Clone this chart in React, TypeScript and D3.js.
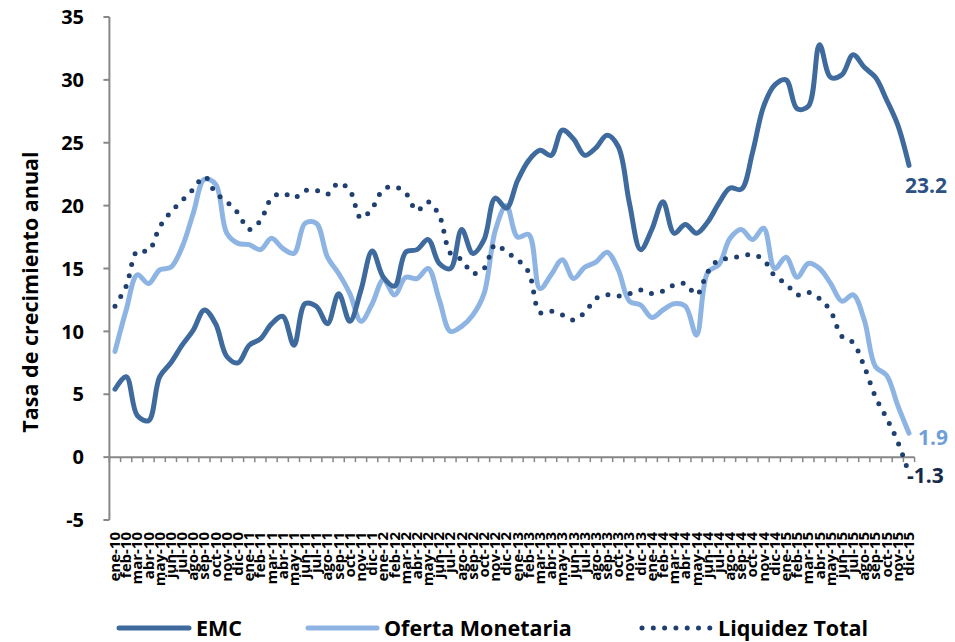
import React from "react";
import * as d3 from "d3";

const categories = [
  "ene-10","feb-10","mar-10","abr-10","may-10","jun-10","jul-10","ago-10","sep-10","oct-10","nov-10","dic-10",
  "ene-11","feb-11","mar-11","abr-11","may-11","jun-11","jul-11","ago-11","sep-11","oct-11","nov-11","dic-11",
  "ene-12","feb-12","mar-12","abr-12","may-12","jun-12","jul-12","ago-12","sep-12","oct-12","nov-12","dic-12",
  "ene-13","feb-13","mar-13","abr-13","may-13","jun-13","jul-13","ago-13","sep-13","oct-13","nov-13","dic-13",
  "ene-14","feb-14","mar-14","abr-14","may-14","jun-14","jul-14","ago-14","sep-14","oct-14","nov-14","dic-14",
  "ene-15","feb-15","mar-15","abr-15","may-15","jun-15","jul-15","ago-15","sep-15","oct-15","nov-15","dic-15",
];

const emc = [
  5.4, 6.4, 3.3, 2.9, 6.4, 7.5, 8.9, 10.1, 11.7, 10.6, 8.0, 7.5,
  8.9, 9.4, 10.6, 11.2, 8.9, 12.2, 12.0, 10.6, 13.0, 10.8, 13.3, 16.4,
  14.3, 13.6, 16.3, 16.5, 17.3, 15.4, 15.0, 18.1, 16.2, 17.3, 20.6, 19.8,
  22.0, 23.6, 24.4, 24.0, 26.0, 25.3, 24.0, 24.6, 25.6, 24.7, 20.2, 16.5,
  18.1, 20.3, 17.8, 18.5, 17.8, 18.7, 20.2, 21.4, 21.3, 24.2, 27.9, 29.6,
  30.0, 27.7, 27.9, 32.8, 30.2, 30.4, 32.0, 31.0, 30.2, 28.4, 26.4, 23.2,
];

const ofertaMonetaria = [
  8.4, 11.7, 14.5, 13.8, 14.9, 15.1, 16.7, 19.4, 22.1, 21.7, 17.8, 17.0,
  16.9, 16.5, 17.4, 16.6, 16.2, 18.6, 18.6, 15.9, 14.6, 13.0, 10.8, 12.2,
  14.1, 12.9, 14.3, 14.2, 15.0, 12.5, 10.0, 10.4, 11.3, 13.0, 18.0, 20.0,
  17.5, 17.7, 13.4, 14.5, 15.7, 14.2, 15.1, 15.5, 16.3, 14.9, 12.4, 12.1,
  11.1, 11.7, 12.2, 12.0, 9.7, 14.7, 15.3, 17.4, 18.1, 17.3, 18.2, 15.0,
  15.9, 14.3, 15.4, 15.0, 13.8, 12.4, 12.9, 10.9, 7.2, 6.5, 4.1, 1.9,
];

const liquidezTotal = [
  12.0, 13.6, 16.4, 16.4, 18.3, 19.5, 20.4, 21.3, 22.3, 21.0, 20.3, 19.4,
  18.1, 18.8, 20.6, 21.0, 20.6, 21.2, 21.2, 20.9, 21.8, 21.2, 19.0, 19.8,
  21.3, 21.5, 21.0, 19.6, 20.3, 19.2, 16.2, 15.7, 14.6, 15.0, 16.9, 16.3,
  15.7, 14.7, 11.5, 11.6, 11.3, 10.9, 11.5, 12.6, 12.9, 12.8, 13.0, 13.3,
  13.0, 13.2, 13.7, 13.8, 12.9, 14.7, 15.7, 15.8, 16.0, 16.1, 15.7, 14.4,
  13.8, 12.9, 13.1, 12.6, 11.6, 9.6, 9.1, 7.2, 4.8, 3.1, 1.2, -1.3,
];

const yTicks = [-5, 0, 5, 10, 15, 20, 25, 30, 35];

const seriesNames = ["EMC", "Oferta Monetaria", "Liquidez Total"];
const lastLabels = ["23.2", "1.9", "-1.3"];

const FONT = "'Open Sans', Lato, sans-serif";
const C_EMC = "#3E6A9D";
const C_OM = "#8DB4E3";
const C_LT = "#1F3F70";

export default function App() {
  const W = 955;
  const H = 642;
  const left = 109.4;
  const right = 914.6;
  const x = d3.scaleBand<string>().domain(categories).range([left, right]).padding(0);
  const xc = (c: string) => (x(c) as number) + x.bandwidth() / 2;
  const y = d3.scaleLinear().domain([-5, 35]).range([520, 17]);

  const mk = (vals: number[]) =>
    d3
      .line<number>()
      .x((_, i) => xc(categories[i]))
      .y((v) => y(v))
      .curve(d3.curveCatmullRom.alpha(0.5))(vals) as string;

  const ticksX = d3.range(categories.length + 1).map((i) => left + i * x.bandwidth());
  const last = categories[categories.length - 1];

  return (
    <svg
      width={W}
      height={H}
      style={{ position: "absolute", left: 0, top: 0, background: "#fff" }}
      fontFamily={FONT}
    >
      {/* Y axis */}
      <line x1={left} x2={left} y1={y(35)} y2={y(-5)} stroke="#878787" strokeWidth={2} />
      {yTicks.map((t) => (
        <g key={t}>
          <line x1={left - 6} x2={left} y1={y(t)} y2={y(t)} stroke="#878787" strokeWidth={2} />
          <text
            x={84}
            y={y(t)}
            dy="0.36em"
            textAnchor="end"
            fontSize={20}
            fontWeight={700}
            fill="#000"
          >
            {t}
          </text>
        </g>
      ))}
      <text
        transform={`translate(38, 292) rotate(-90)`}
        textAnchor="middle"
        fontSize={21.5}
        fontWeight={700}
        fill="#000"
      >
        Tasa de crecimiento anual
      </text>

      {/* X axis at zero */}
      <line x1={left} x2={right} y1={y(0)} y2={y(0)} stroke="#878787" strokeWidth={2} />
      {ticksX.map((tx, i) => (
        <line key={i} x1={tx} x2={tx} y1={y(0)} y2={y(0) + 5} stroke="#878787" strokeWidth={1.5} />
      ))}
      {categories.map((c) => (
        <text
          key={c}
          transform={`translate(${xc(c) + 5}, 532) rotate(-90)`}
          textAnchor="end"
          fontSize={15}
          fontWeight={700}
          fill="#000"
        >
          {c}
        </text>
      ))}

      {/* Series */}
      <path d={mk(ofertaMonetaria)} fill="none" stroke={C_OM} strokeWidth={5} strokeLinejoin="round" strokeLinecap="round" />
      <path d={mk(emc)} fill="none" stroke={C_EMC} strokeWidth={5} strokeLinejoin="round" strokeLinecap="round" />
      <path
        d={mk(liquidezTotal)}
        fill="none"
        stroke={C_LT}
        strokeWidth={5}
        strokeLinecap="round"
        strokeDasharray="0 11.3"
      />

      {/* End labels */}
      <text x={xc(last) - 4} y={y(emc[emc.length - 1]) + 28} fontSize={21} fontWeight={700} fill="#2B5283">
        {lastLabels[0]}
      </text>
      <text x={xc(last) + 9} y={y(ofertaMonetaria[71]) + 4} dy="0.36em" fontSize={21} fontWeight={700} fill="#6F9FD8">
        {lastLabels[1]}
      </text>
      <text x={xc(last) - 2} y={y(liquidezTotal[71]) + 2} dy="0.36em" fontSize={21} fontWeight={700} fill="#15294A">
        {lastLabels[2]}
      </text>

      {/* Legend */}
      <line x1={119} x2={189} y1={628} y2={628} stroke={C_EMC} strokeWidth={5} strokeLinecap="round" />
      <text x={196} y={628} dy="0.36em" fontSize={21.5} fontWeight={700} fill="#000">
        {seriesNames[0]}
      </text>
      <line x1={308} x2={377} y1={628} y2={628} stroke={C_OM} strokeWidth={5} strokeLinecap="round" />
      <text x={384} y={628} dy="0.36em" fontSize={21.5} fontWeight={700} fill="#000">
        {seriesNames[1]}
      </text>
      <line x1={642} x2={710} y1={628} y2={628} stroke={C_LT} strokeWidth={5} strokeLinecap="round" strokeDasharray="0 11.3" />
      <text x={718} y={628} dy="0.36em" fontSize={21.5} fontWeight={700} fill="#000">
        {seriesNames[2]}
      </text>
    </svg>
  );
}
